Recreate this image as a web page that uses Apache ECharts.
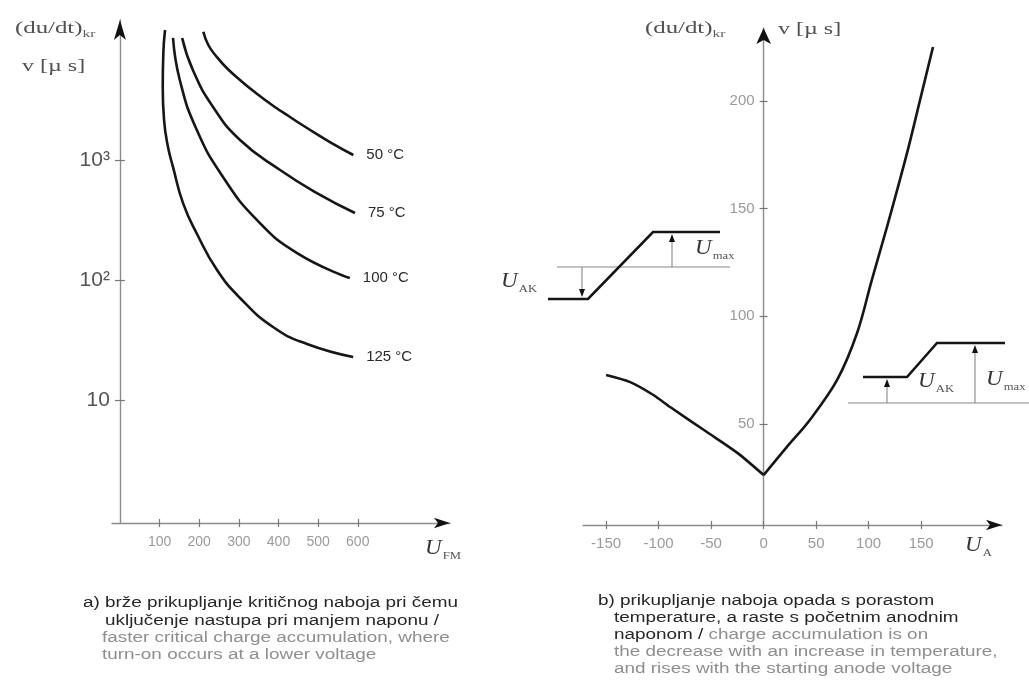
<!DOCTYPE html>
<html><head><meta charset="utf-8">
<script src="https://cdn.jsdelivr.net/npm/echarts@6/dist/echarts.min.js"></script>
<style>html,body{margin:0;padding:0;background:#fff}#c{width:1029px;height:695px}</style>
</head><body><div id="c"></div>
<script>
// ---- data: chart a) (du/dt)kr vs U_FM, log scale ----
const leftXTicks = [100, 200, 300, 400, 500, 600];
const leftYTicks = [10, 100, 1000];
const leftYTickLabels = ['10', '10²', '10³'];
const curveNames = ['50 °C', '75 °C', '100 °C', '125 °C'];
const curve50 = [[210.4, 11700], [223, 9070], [244, 7240], [269.4, 5835], [303, 4637], [343.1, 3612], [387.2, 2816], [429.1, 2281], [472, 1847], [529.8, 1412], [588.8, 1101]];
const curve75 = [[157, 10390], [184, 5620], [235, 2766], [303, 1468], [404, 826], [497, 531], [593, 362]];
const curve100 = [[134, 10390], [151, 4640], [194, 1778], [260, 722], [346, 316], [447, 168], [580, 104]];
const curve125 = [[113.8, 12090], [109.5, 7780], [108, 4055], [111.3, 2155], [121.3, 1282], [134, 874], [159.2, 438], [194.5, 242], [245, 121.4], [303, 71], [386.2, 40.7], [472, 29.4], [588.4, 22.9]];

// ---- data: chart b) (du/dt)kr vs U_A ----
const rightXTicks = [-150, -100, -50, 0, 50, 100, 150];
const rightYTicks = [50, 100, 150, 200];
const branchNeg = [[-150, 72.7], [-127, 69.4], [-105, 63.4], [-89, 57.8], [-54, 46.2], [-25, 36.5], [0, 26.2]];
const branchPos = [[0, 26.2], [22, 39.2], [44, 51.8], [70, 70.4], [89, 92.2], [103, 116.8], [117.5, 141.5], [136.6, 175.9], [149, 200.5], [161.3, 225.1]];

const SANS = 'Liberation Sans';
const SERIF = 'Liberation Serif';
const AXIS_GRAY = '#8c8c8c';
const TICK = { color: '#777', width: 1.2 };

function baseAxis(extra) {
  return Object.assign({
    type: 'value',
    splitLine: { show: false },
    axisLine: { show: true, onZero: false, symbol: ['none', 'none'], lineStyle: { color: AXIS_GRAY, width: 1.4 } },
  }, extra);
}
function arrowLine(size) {
  return { show: true, onZero: false, symbol: ['none', 'arrow'], symbolSize: size, lineStyle: { color: '#111', width: 0 } };
}

const leftGrid = { left: 112, top: 20, width: 338, height: 503 };
const rightGrid = { left: 583, top: 28, width: 419, height: 497 };
const grids = [leftGrid, leftGrid, rightGrid, rightGrid];

const LX = { min: -20, max: 832.7 };
const LY = { min: 0.95, max: 14650 };
const RX = { min: -172, max: 227 };
const RY = { min: 3, max: 233.9 };
// y axes sit on U = 0 of their x axis
const leftYOffset = -(leftGrid.width * (0 - LX.min) / (LX.max - LX.min));
const rightYOffset = -(rightGrid.width * (0 - RX.min) / (RX.max - RX.min));

const xAxes = [
  baseAxis(Object.assign({ gridIndex: 0,
    axisTick: { show: true, customValues: leftXTicks, length: 4, lineStyle: TICK },
    axisLabel: { customValues: leftXTicks, color: '#9a9a9a', fontSize: 14, fontFamily: SANS, margin: 12 } }, LX)),
  baseAxis(Object.assign({ gridIndex: 1, axisLine: arrowLine([8, 16]),
    axisTick: { show: true, inside: true, customValues: leftXTicks, length: 4, lineStyle: TICK },
    axisLabel: { show: false } }, LX)),
  baseAxis(Object.assign({ gridIndex: 2,
    axisTick: { show: true, customValues: rightXTicks, length: 4, lineStyle: TICK },
    axisLabel: { customValues: rightXTicks, color: '#9a9a9a', fontSize: 15, fontFamily: SANS, margin: 11 } }, RX)),
  baseAxis(Object.assign({ gridIndex: 3, axisLine: arrowLine([8, 16]),
    axisTick: { show: true, inside: true, customValues: rightXTicks, length: 4, lineStyle: TICK },
    axisLabel: { show: false } }, RX))
];

function leftYLabel(v) {
  let best = 0;
  leftYTicks.forEach((t, i) => { if (Math.abs(Math.log10(v) - Math.log10(t)) < Math.abs(Math.log10(v) - Math.log10(leftYTicks[best]))) best = i; });
  return leftYTickLabels[best];
}

const yAxes = [
  baseAxis(Object.assign({ gridIndex: 0, type: 'log', logBase: 10, offset: leftYOffset,
    axisTick: { show: true, customValues: leftYTicks, length: 5, lineStyle: TICK },
    axisLabel: { customValues: leftYTicks, formatter: leftYLabel, color: '#555', fontSize: 21, fontFamily: SANS, margin: 10 } }, LY)),
  baseAxis(Object.assign({ gridIndex: 1, type: 'log', logBase: 10, offset: leftYOffset, axisLine: arrowLine([9, 20]),
    axisTick: { show: true, inside: true, customValues: leftYTicks, length: 5, lineStyle: TICK },
    axisLabel: { show: false } }, LY)),
  baseAxis(Object.assign({ gridIndex: 2, offset: rightYOffset,
    axisTick: { show: true, customValues: rightYTicks, length: 4, lineStyle: TICK },
    axisLabel: { customValues: rightYTicks, color: '#9a9a9a', fontSize: 15, fontFamily: SANS, margin: 9 } }, RY)),
  baseAxis(Object.assign({ gridIndex: 3, offset: rightYOffset, axisLine: arrowLine([11, 16]),
    axisTick: { show: true, inside: true, customValues: rightYTicks, length: 4, lineStyle: TICK },
    axisLabel: { show: false } }, RY))
];

const curveStyle = { color: '#161616', width: 2.6 };
const leftCurves = [curve50, curve75, curve100, curve125];
const series = leftCurves.map((d, i) => ({
  type: 'line', name: curveNames[i], xAxisIndex: 0, yAxisIndex: 0,
  data: d, smooth: 0.5, showSymbol: false, clip: false,
  lineStyle: curveStyle, silent: true,
  endLabel: { show: true, formatter: curveNames[i], distance: 13, color: '#2a2a2a', fontSize: 15, fontFamily: SANS }
}));
[[branchNeg, 0.25], [branchPos, 0.35]].forEach(b => series.push({
  type: 'line', xAxisIndex: 2, yAxisIndex: 2, data: b[0], smooth: b[1],
  showSymbol: false, clip: false, lineStyle: curveStyle, silent: true
}));

function uLabel(x, y, sub) {
  return { type: 'text', x: x, y: y, scaleX: 1.15, style: {
    text: '{u|U}{s|' + sub + '}', verticalAlign: 'middle',
    rich: { u: { fontFamily: SERIF, fontStyle: 'italic', fontSize: 20, fill: '#333', verticalAlign: 'bottom', padding: [0, 1, 3, 0] },
            s: { fontFamily: SERIF, fontSize: 11, fill: '#555', verticalAlign: 'bottom' } } } };
}
function nameLabel(x, y) {
  return { type: 'text', x: x, y: y, scaleX: 1.55, style: {
    text: '{m|(du/dt)}{s|kr}', verticalAlign: 'middle',
    rich: { m: { fontFamily: SERIF, fontSize: 16, fill: '#505050', verticalAlign: 'bottom', padding: [0, 0, 2, 0] },
            s: { fontFamily: SERIF, fontSize: 10, fill: '#606060', verticalAlign: 'bottom' } } } };
}
function vLabel(x, y) {
  return { type: 'text', x: x, y: y, scaleX: 1.5, style: { text: 'v [µ s]', verticalAlign: 'middle', font: '16px "' + SERIF + '"', fill: '#505050' } };
}
function thick(points) { return { type: 'polyline', shape: { points: points }, style: { stroke: '#151515', lineWidth: 2.6, fill: null } }; }
function thin(x1, y1, x2, y2) { return { type: 'line', shape: { x1: x1, y1: y1, x2: x2, y2: y2 }, style: { stroke: '#888', lineWidth: 1.1 } }; }
function arrowUp(x, yBase, yTip) {
  return [thin(x, yBase, x, yTip + 6), { type: 'polygon', shape: { points: [[x, yTip], [x - 3, yTip + 8], [x + 3, yTip + 8]] }, style: { fill: '#111' } }];
}
function arrowDown(x, yBase, yTip) {
  return [thin(x, yBase, x, yTip - 6), { type: 'polygon', shape: { points: [[x, yTip], [x - 3, yTip - 8], [x + 3, yTip - 8]] }, style: { fill: '#111' } }];
}
function caption(x, y, parts) {
  let txt = parts.map(p => '{' + p[1] + '|' + p[0] + '}').join('');
  return { type: 'text', x: x, y: y, scaleX: 1.35, style: { text: txt, verticalAlign: 'middle',
    rich: { d: { fontFamily: SANS, fontSize: 14, fill: '#262626' }, g: { fontFamily: SANS, fontSize: 14, fill: '#8e8e8e' } } } };
}

const graphic = [
  nameLabel(15, 30), vLabel(22, 67),
  nameLabel(645, 30), vLabel(778, 30),
  uLabel(425, 550, 'FM'), uLabel(965, 547, 'A'),
  // inset 1
  thin(557, 267, 730, 267),
  thick([[548, 299], [588, 299], [653, 232], [720, 232]]),
  ...arrowUp(672, 267, 234),
  ...arrowDown(582, 267, 297),
  uLabel(695, 250, 'max'), uLabel(501, 283, 'AK'),
  // inset 2
  thin(848, 403, 1029, 403),
  thick([[863, 377], [907, 377], [937, 343], [1005, 343]]),
  ...arrowUp(887, 403, 379),
  ...arrowUp(975, 403, 345),
  uLabel(918, 383, 'AK'), uLabel(986, 381, 'max'),
  // captions
  caption(83, 603, [['a) brže prikupljanje kritičnog naboja pri čemu', 'd']]),
  caption(105, 621, [['uključenje nastupa pri manjem naponu /', 'd']]),
  caption(102, 638, [['faster critical charge accumulation, where', 'g']]),
  caption(102, 655, [['turn-on occurs at a lower voltage', 'g']]),
  caption(598, 601, [['b) prikupljanje naboja opada s porastom', 'd']]),
  caption(614, 618, [['temperature, a raste s početnim anodnim', 'd']]),
  caption(614, 635, [['naponom / ', 'd'], ['charge accumulation is on', 'g']]),
  caption(614, 652, [['the decrease with an increase in temperature,', 'g']]),
  caption(614, 669, [['and rises with the starting anode voltage', 'g']])
];

const chart = echarts.init(document.getElementById('c'), null, { renderer: 'canvas' });
chart.setOption({
  animation: false,
  backgroundColor: '#fff',
  grid: grids,
  xAxis: xAxes,
  yAxis: yAxes,
  series: series,
  graphic: graphic
});
</script>
</body></html>
